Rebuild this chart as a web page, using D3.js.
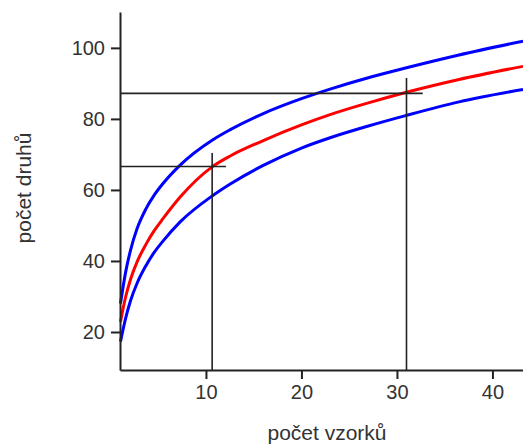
<!DOCTYPE html>
<html>
<head>
<meta charset="utf-8">
<script src="https://cdn.jsdelivr.net/npm/d3@7"></script>
<style>
body { margin: 0; background: #fff; }
</style>
</head>
<body>
<script>
// values

var sampleX = [1.05, 1.6, 2.1, 2.8, 3.7, 4.6, 5.5, 7.3, 10.65, 12.5, 16, 20, 23, 27, 31, 36.5, 43.2];
var upperY  = [28.0, 37.0, 43.0, 49.2, 54.6, 58.6, 61.8, 67.0, 74.0, 76.9, 81.5, 85.7, 88.4, 91.6, 94.4, 98.0, 101.9];
var meanY   = [22.9, 30.0, 34.8, 39.8, 44.6, 48.6, 51.9, 58.0, 66.5, 69.5, 73.9, 78.3, 81.2, 84.5, 87.5, 91.1, 94.8];
var lowerY  = [17.3, 24.0, 28.8, 33.8, 38.6, 42.5, 45.6, 51.0, 58.3, 61.6, 66.9, 71.8, 74.7, 78.0, 81.0, 84.8, 88.3];

// guide lines: vertical at guideX up to guideTop, horizontal at guideY out to guideEnd
var guideX   = [10.65, 31.0];
var guideTop = [70.4, 91.5];
var guideY   = [66.6, 87.2];
var guideEnd = [12.1, 32.7];

var xTicks = [10, 20, 30, 40];
var yTicks = [20, 40, 60, 80, 100];

var xLabel = "počet vzorků";
var yLabel = "počet druhů";

var w = 523, h = 444;
var plotL = 120, plotR = 523, plotT = 12, plotB = 370; // "top" is taken by window.top

var x = d3.scaleLinear().domain([1, 43.2]).range([plotL, plotR]);
var y = d3.scaleLinear().domain([9.3, 110.1]).range([plotB, plotT]);

var svg = d3.select("body").append("svg")
	.attr("width", w)
	.attr("height", h);

// curves
var line = d3.line()
	.x(function(d){ return x(d[0]); })
	.y(function(d){ return y(d[1]); })
	.curve(d3.curveMonotoneX);

var series = [
	{vals: upperY, color: "#0000ff"},
	{vals: lowerY, color: "#0000ff"},
	{vals: meanY, color: "#ff0000"}
];

svg.selectAll("path.curve")
	.data(series)
	.enter()
	.append("path")
	.attr("class", "curve")
	.attr("d", function(s){ return line(sampleX.map(function(v, i){ return [v, s.vals[i]]; })); })
	.attr("fill", "none")
	.attr("stroke", function(s){ return s.color; })
	.attr("stroke-width", 3);

// guide lines
svg.selectAll("line.vguide")
	.data(guideX)
	.enter()
	.append("line")
	.attr("class", "vguide")
	.attr("x1", function(d){ return x(d); })
	.attr("x2", function(d){ return x(d); })
	.attr("y1", plotB)
	.attr("y2", function(d, i){ return y(guideTop[i]); })
	.attr("stroke", "#222")
	.attr("stroke-width", 1.6);

svg.selectAll("line.hguide")
	.data(guideY)
	.enter()
	.append("line")
	.attr("class", "hguide")
	.attr("x1", plotL)
	.attr("x2", function(d, i){ return x(guideEnd[i]); })
	.attr("y1", function(d){ return y(d); })
	.attr("y2", function(d){ return y(d); })
	.attr("stroke", "#222")
	.attr("stroke-width", 1.6);

// axes
var xAxis = d3.axisBottom(x).tickValues(xTicks).tickSize(9).tickSizeOuter(0).tickPadding(6);
var yAxis = d3.axisLeft(y).tickValues(yTicks).tickSize(9).tickSizeOuter(0).tickPadding(6);

var gx = svg.append("g")
	.attr("transform", "translate(0," + plotB + ")")
	.call(xAxis);

var gy = svg.append("g")
	.attr("transform", "translate(" + plotL + ",0)")
	.call(yAxis);

[gx, gy].forEach(function(g){
	g.select(".domain").attr("stroke", "#222").attr("stroke-width", 2);
	g.selectAll(".tick line").attr("stroke", "#222").attr("stroke-width", 2);
	g.selectAll(".tick text")
		.attr("fill", "#333")
		.attr("font-size", "20px")
		.attr("font-family", "Liberation Sans, Arial, sans-serif");
});

// axis titles
svg.append("text")
	.text(xLabel)
	.attr("x", 327)
	.attr("y", 440)
	.attr("text-anchor", "middle")
	.attr("fill", "#333")
	.attr("font-size", "21px")
	.attr("font-family", "Liberation Sans, Arial, sans-serif");

svg.append("text")
	.text(yLabel)
	.attr("transform", "translate(31,188) rotate(-90)")
	.attr("text-anchor", "middle")
	.attr("fill", "#333")
	.attr("font-size", "21px")
	.attr("font-family", "Liberation Sans, Arial, sans-serif");
</script>
</body>
</html>
